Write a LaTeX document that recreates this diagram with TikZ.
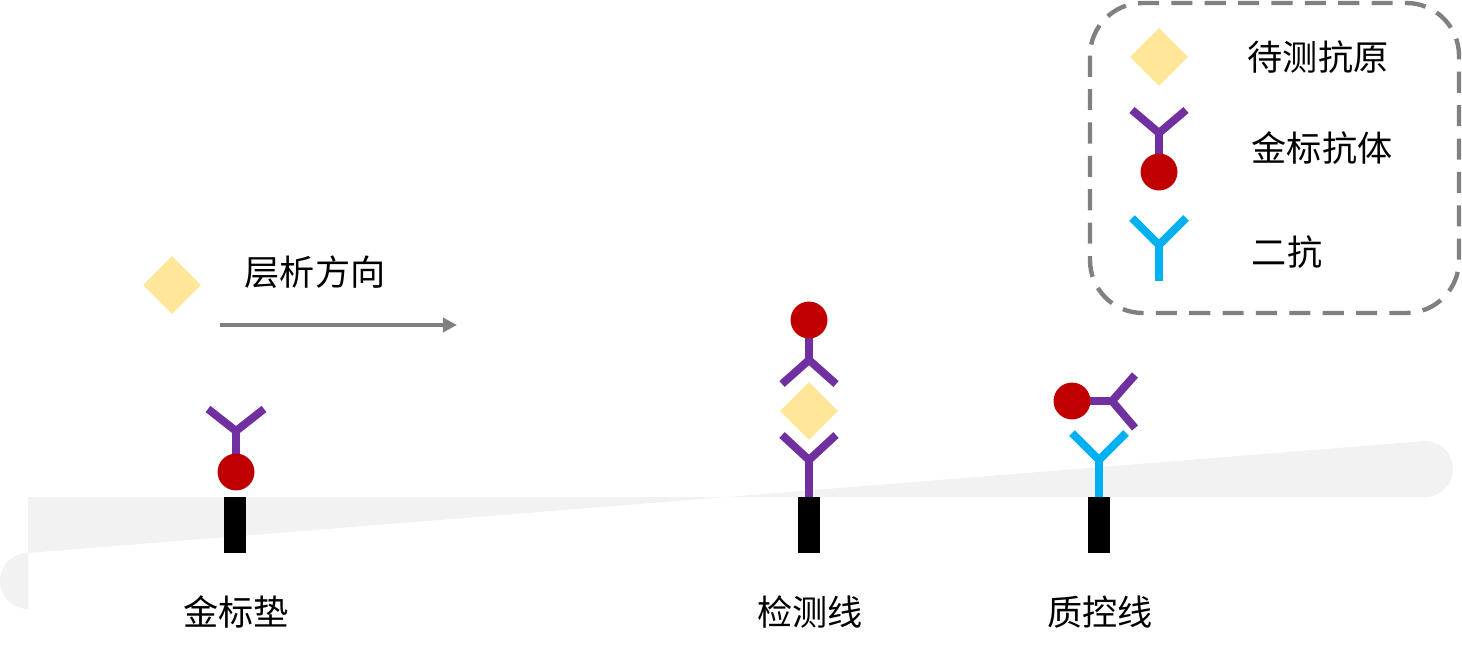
\documentclass[tikz,border=0pt]{standalone}
\usepackage{fontspec}
\setmainfont{Noto Sans CJK SC}
\usepackage{tikz}
\usetikzlibrary{arrows.meta}
\definecolor{antigen}{HTML}{FFE699}
\definecolor{goldab}{HTML}{7030A0}
\definecolor{secab}{HTML}{00B0F0}
\definecolor{gold}{HTML}{C00000}
\tikzset{%
  antibody/.style = {line width=4.5pt},%
  particle/.style = {circle, fill=gold, inner sep=0pt, minimum size=21pt},%
  antigenbox/.style = {diamond, fill=antigen, inner sep=0pt, minimum size=33pt},%
  lbl/.style      = {font=\fontsize{20}{24}\selectfont},%
  bar/.style      = {fill=black}%
}
\usetikzlibrary{shapes.geometric}
\begin{document}
\begin{tikzpicture}[x=0.02cm,y=-0.02cm]
	\useasboundingbox (0,0) rectangle (1462,658);
	% strip
	\fill[gray!10] (28,497) -- (1425,497) arc[start angle=90,end angle=-90,radius=28] -- (28,553) arc[start angle=270,end angle=90,radius=28] -- cycle;
	\foreach \x in {235,809,1099}
		\fill[bar] (\x-11,497) rectangle (\x+11,553);
	% gold pad
	\draw[antibody,goldab] (208,409) -- (236,431) -- (264,409) (236,431) -- (236,462);
	\node[particle] (padgold) at (236,472) {};
	% detection line
	\draw[antibody,goldab] (782,435) -- (809,460) -- (836,435) (809,460) -- (809,497);
	\node[antigenbox] (tantigen) at (809,411) {};
	\draw[antibody,goldab] (782,384) -- (809,360) -- (836,384) (809,360) -- (809,330);
	\node[particle] (tgold) at (809,320) {};
	% control line
	\draw[antibody,secab] (1072,433) -- (1099,460) -- (1126,433) (1099,460) -- (1099,497);
	\draw[antibody,goldab] (1135,375) -- (1112,401) -- (1135,428) (1112,401) -- (1082,401);
	\node[particle] (cgold) at (1072,401) {};
	% flow
	\node[antigenbox] (flowantigen) at (172,285) {};
	\node[lbl] (flowtext) at (315,272) {层析方向};
	\coordinate (flowstart) at (220,325);
	\coordinate (flowend) at (457,325);
	\draw[gray,line width=2.5pt,-{Triangle[length=8pt,width=8pt]}] (flowstart) -- (flowend);
	% labels
	\node[lbl] (padlabel) at (236,612) {金标垫};
	\node[lbl] (testlabel) at (810,612) {检测线};
	\node[lbl] (ctrllabel) at (1100,612) {质控线};
	% legend
	\draw[gray,line width=2.5pt,dash pattern=on 12pt off 7pt,rounded corners=30pt] (1090,3) rectangle (1459,313);
	\node[antigenbox] (legantigen) at (1159,57) {};
	\node[lbl] (legantigentext) at (1318,57) {待测抗原};
	\draw[antibody,goldab] (1132,110) -- (1159,133) -- (1186,110) (1159,133) -- (1159,162);
	\node[particle] (leggold) at (1159,172) {};
	\node[lbl] (leggoldtext) at (1322,148) {金标抗体};
	\draw[antibody,secab] (1132,218) -- (1159,245) -- (1186,218) (1159,245) -- (1159,281);
	\node[lbl] (legsectext) at (1287,252) {二抗};
\end{tikzpicture}
\end{document}
